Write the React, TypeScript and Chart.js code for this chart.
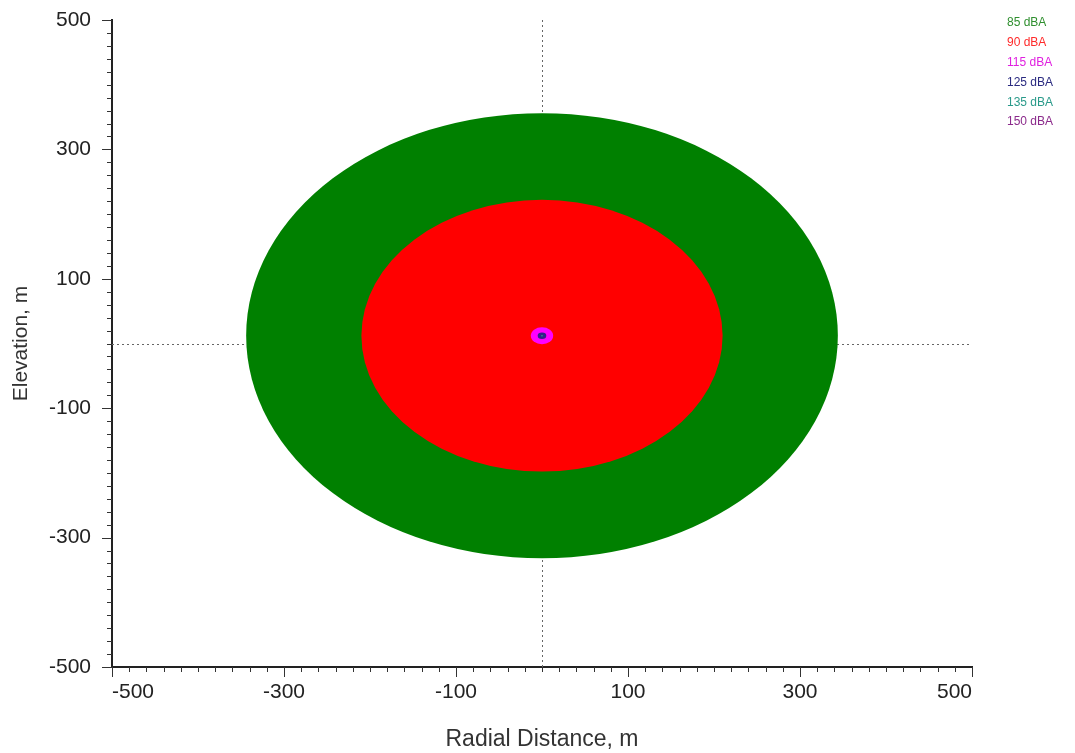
import { useEffect, useRef } from 'react';
import { Chart, registerables } from 'chart.js';

Chart.register(...registerables);

// Noise contour levels (legend), contour radii in metres, fill colours
const contourLevels = ['85 dBA', '90 dBA', '115 dBA', '125 dBA', '135 dBA', '150 dBA'];
const contourRadii = [344, 210, 13, 5, 1.2, 0.6];
const contourColors = ['#008000', '#ff0000', '#ff00ff', '#35208a', '#20a090', '#8b1a8b'];
const legendColors = ['#2f8f2f', '#ff2a2a', '#e020e0', '#2a2a80', '#2a9a8a', '#8b2a8b'];

// Source position
const sourceX = 0;
const sourceElevation = 12;

// Labelled tick values (both axes)
const axisTickValues = [-500, -300, -100, 100, 300, 500];

const FONT = 'Arial, "Liberation Sans", sans-serif';

const contourPlugin = {
  id: 'contours',
  beforeDatasetsDraw(chart: any) {
    const { ctx, chartArea, scales } = chart;
    const x = scales.x;
    const y = scales.y;
    ctx.save();
    // crosshair dotted lines
    ctx.strokeStyle = '#666';
    ctx.lineWidth = 1;
    ctx.setLineDash([2, 3]);
    const x0 = Math.round(x.getPixelForValue(sourceX)) + 0.5;
    ctx.beginPath();
    ctx.moveTo(x0, chartArea.top);
    ctx.lineTo(x0, chartArea.bottom);
    ctx.stroke();
    const y0 = Math.round(y.getPixelForValue(0)) + 0.5;
    ctx.beginPath();
    ctx.moveTo(chartArea.left, y0);
    ctx.lineTo(chartArea.right, y0);
    ctx.stroke();
    ctx.setLineDash([]);
    // contours
    contourRadii.forEach((r, i) => {
      const cx = x.getPixelForValue(sourceX);
      const cy = y.getPixelForValue(sourceElevation);
      const rx = Math.abs(x.getPixelForValue(sourceX + r) - cx);
      const ry = Math.abs(y.getPixelForValue(sourceElevation + r) - cy);
      ctx.fillStyle = contourColors[i];
      ctx.beginPath();
      ctx.ellipse(cx, cy, rx, ry, 0, 0, Math.PI * 2);
      ctx.fill();
    });
    ctx.restore();
  },
  afterDraw(chart: any) {
    const { ctx, chartArea, scales } = chart;
    const x = scales.x;
    const y = scales.y;
    ctx.save();
    // tick marks: minor every step, longer at labelled values
    ctx.strokeStyle = '#333';
    ctx.lineWidth = 1;
    x.ticks.forEach((t: any) => {
      const v = Math.round(t.value);
      const len = axisTickValues.includes(v) ? 10 : 5;
      const px = Math.round(x.getPixelForValue(v)) + 0.5;
      ctx.beginPath();
      ctx.moveTo(px, chartArea.bottom);
      ctx.lineTo(px, chartArea.bottom + len);
      ctx.stroke();
    });
    y.ticks.forEach((t: any) => {
      const v = Math.round(t.value);
      const len = axisTickValues.includes(v) ? 10 : 5;
      const py = Math.round(y.getPixelForValue(v)) + 0.5;
      ctx.beginPath();
      ctx.moveTo(chartArea.left, py);
      ctx.lineTo(chartArea.left - len, py);
      ctx.stroke();
    });
    // legend
    ctx.font = `12px ${FONT}`;
    ctx.textAlign = 'left';
    ctx.textBaseline = 'middle';
    contourLevels.forEach((lbl, i) => {
      ctx.fillStyle = legendColors[i];
      ctx.fillText(lbl, 1007, 23 + i * 19.8);
    });
    ctx.restore();
  },
};

export default function App() {
  const ref = useRef<HTMLCanvasElement>(null);
  useEffect(() => {
    document.body.style.margin = '0';
    const tickFont = { family: FONT, size: 21 };
    const labelCb = (v: any) => (axisTickValues.includes(Math.round(Number(v))) ? String(Math.round(Number(v))) : '');
    const chart = new Chart(ref.current!, {
      type: 'scatter',
      data: {
        datasets: contourLevels.map((lbl, i) => ({
          label: lbl,
          data: [{ x: sourceX, y: sourceElevation }],
          pointRadius: 0,
          backgroundColor: contourColors[i],
        })),
      },
      options: {
        animation: false,
        responsive: true,
        maintainAspectRatio: false,
        layout: { padding: { top: 20, right: 103, left: 0, bottom: 0 } },
        plugins: { legend: { display: false }, tooltip: { enabled: false } },
        scales: {
          x: {
            type: 'linear',
            min: -500,
            max: 500,
            afterFit: (s: any) => {
              s.height = 86;
            },
            ticks: {
              stepSize: 20,
              autoSkip: false,
              maxTicksLimit: 200,
              align: 'inner',
              maxRotation: 0,
              padding: 4,
              color: '#222',
              font: tickFont,
              callback: labelCb,
            },
            grid: { drawOnChartArea: false, tickLength: 9, tickColor: 'rgba(0,0,0,0)' },
            border: { color: '#222', width: 2 },
            title: {
              display: true,
              text: 'Radial Distance, m',
              color: '#333',
              font: { family: FONT, size: 23 },
              padding: { top: 0, bottom: 0 },
            },
          },
          y: {
            type: 'linear',
            min: -500,
            max: 500,
            afterFit: (s: any) => {
              s.width = 112;
            },
            ticks: {
              stepSize: 20,
              autoSkip: false,
              maxTicksLimit: 200,
              padding: 0,
              color: '#222',
              font: tickFont,
              callback: labelCb,
            },
            grid: { drawOnChartArea: false, tickLength: 21, tickColor: 'rgba(0,0,0,0)' },
            border: { color: '#222', width: 2 },
            title: {
              display: true,
              text: 'Elevation, m',
              color: '#333',
              font: { family: FONT, size: 21 },
              padding: { top: 9, bottom: 0 },
            },
          },
        },
      },
      plugins: [contourPlugin],
    } as any);
    return () => chart.destroy();
  }, []);
  return (
    <div style={{ width: 1075, height: 753, position: 'relative' }}>
      <canvas ref={ref} />
    </div>
  );
}
